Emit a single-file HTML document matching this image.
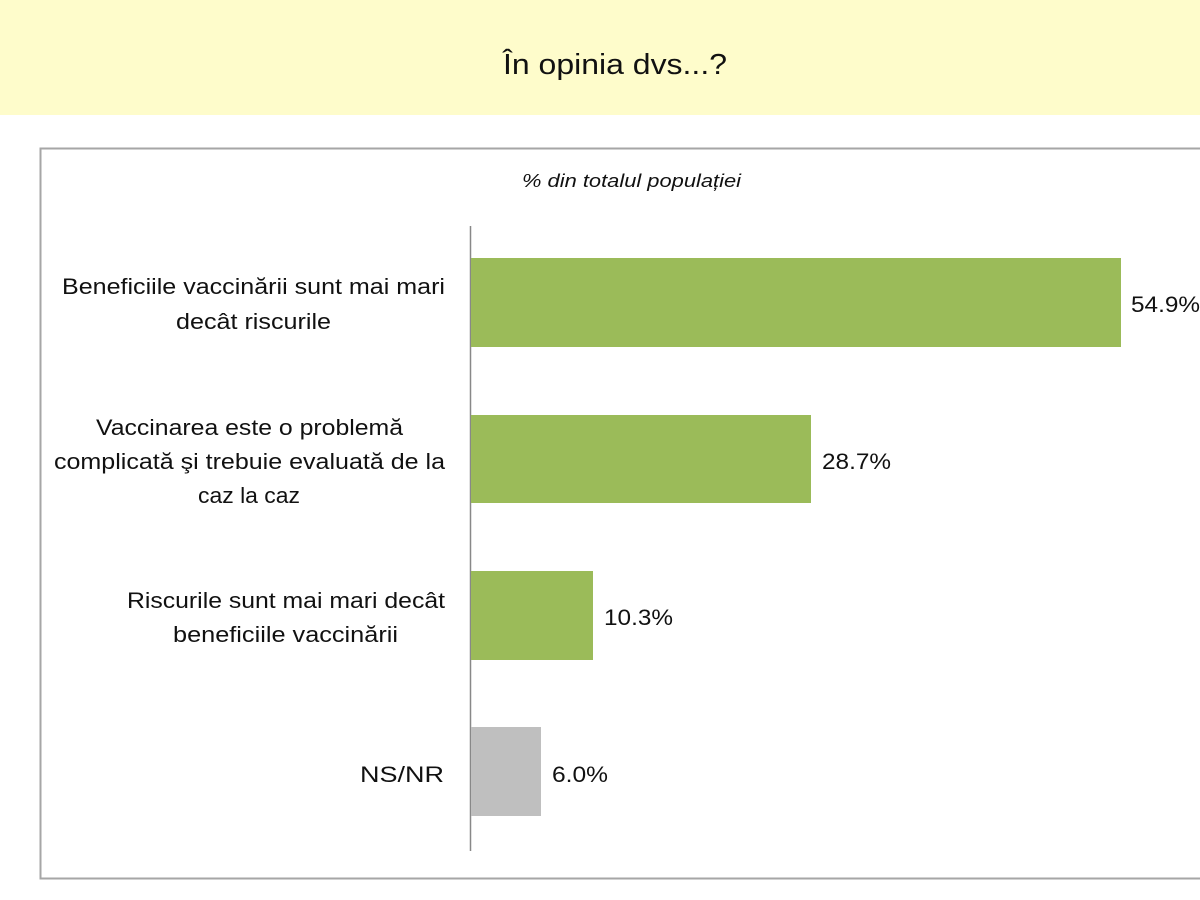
<!DOCTYPE html>
<html><head><meta charset="utf-8"><style>
html,body{margin:0;padding:0;width:1200px;height:900px;background:#fff;overflow:hidden}
text{font-family:"Liberation Sans","DejaVu Sans",sans-serif;fill:#111}
</style></head><body>
<svg width="1200" height="900" xmlns="http://www.w3.org/2000/svg">
<rect x="0" y="0" width="1200" height="115" fill="#fefccb"/>
<text x="503" y="74" font-size="29" textLength="224" lengthAdjust="spacingAndGlyphs">În opinia dvs...?</text>
<rect x="40.5" y="148.5" width="1170" height="730" fill="#fff" stroke="#a6a6a6" stroke-width="2"/>
<text x="522" y="187" font-size="18" font-style="italic" textLength="219" lengthAdjust="spacingAndGlyphs">% din totalul populației</text>
<line x1="470.5" y1="226" x2="470.5" y2="851" stroke="#888" stroke-width="1.5"/>
<rect x="471" y="258" width="650" height="89" fill="#9bbb59"/>
<rect x="471" y="415" width="340" height="88" fill="#9bbb59"/>
<rect x="471" y="571" width="122" height="89" fill="#9bbb59"/>
<rect x="471" y="727" width="70" height="89" fill="#bfbfbf"/>
<g font-size="22">
<text x="1131" y="312" textLength="69" lengthAdjust="spacingAndGlyphs">54.9%</text>
<text x="822" y="469" textLength="69" lengthAdjust="spacingAndGlyphs">28.7%</text>
<text x="604" y="625" textLength="69" lengthAdjust="spacingAndGlyphs">10.3%</text>
<text x="552" y="782" textLength="56" lengthAdjust="spacingAndGlyphs">6.0%</text>
</g>
<g font-size="22">
<text x="62" y="294" textLength="383" lengthAdjust="spacingAndGlyphs">Beneficiile vaccinării sunt mai mari</text>
<text x="176" y="329" textLength="155" lengthAdjust="spacingAndGlyphs">decât riscurile</text>
<text x="96" y="435" textLength="307" lengthAdjust="spacingAndGlyphs">Vaccinarea este o problemă</text>
<text x="54" y="469" textLength="391" lengthAdjust="spacingAndGlyphs">complicată şi trebuie evaluată de la</text>
<text x="198" y="503" textLength="102" lengthAdjust="spacingAndGlyphs">caz la caz</text>
<text x="127" y="608" textLength="318" lengthAdjust="spacingAndGlyphs">Riscurile sunt mai mari decât</text>
<text x="173" y="642" textLength="225" lengthAdjust="spacingAndGlyphs">beneficiile vaccinării</text>
<text x="360" y="782" textLength="84" lengthAdjust="spacingAndGlyphs">NS/NR</text>
</g>
</svg>
</body></html>
